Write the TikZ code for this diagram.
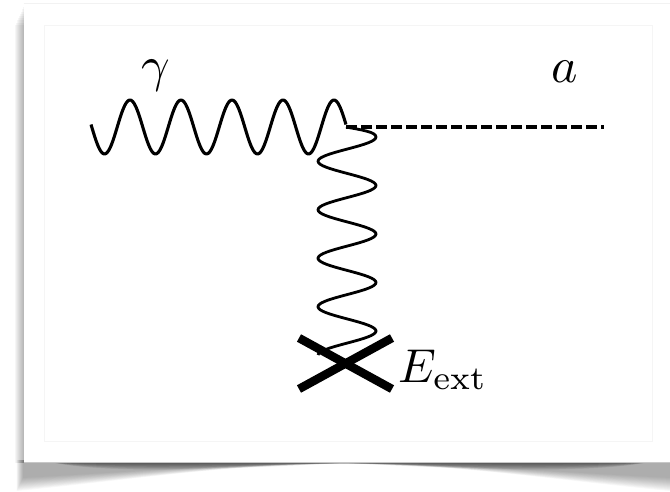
\documentclass[tikz,border=0pt]{standalone}
\begin{document}
\begin{tikzpicture}[x=1pt,y=-1pt,
  wave/.style={line width=3.1pt,black,line join=round},
  dashline/.style={line width=4pt,black,dash pattern=on 10.5pt off 4.5pt},
  crossbar/.style={line width=8.5pt,black},
  lbl/.style={inner sep=0pt},
  faint/.style={line width=.5pt,black!4}]
\useasboundingbox (0,0) rectangle (670,492);
% bottom shadow, built from nested lens-shaped layers
\foreach \k in {1,...,14}{
  \pgfmathsetmacro{\e}{15+\k}
  \pgfmathsetmacro{\xl}{23.5-\k/2}
  \fill[black,opacity=.028] (\xl,460) -- (\xl,462+\e) .. controls (130,462+.62*\e) and (235,463.5) .. (344,463.5) .. controls (450,463.5) and (555,462+.62*\e) .. (670,462+\e) -- (670,460) -- cycle;
}
\foreach \k in {1,...,12}{
  \pgfmathsetmacro{\d}{1.1*\k}
  \fill[black,opacity=.06] (50,460) -- (50,462) .. controls (110,462+\d) and (230,462+.5*\d) .. (344,463) .. controls (460,462+.5*\d) and (580,462+\d) .. (650,462) -- (650,460) -- cycle;
}
% left shadow
\foreach \k in {1,...,9}{
  \fill[black,opacity=.035] (23.5-\k,5+2.2*\k) rectangle (23.5,463);
}
% page
\fill[white] (23.5,3) rectangle (670,462);
\draw[black!5,line width=.5pt] (23.5,3) -- (670,3);
\draw[black!22,line width=.6pt] (23.5,462) -- (670,462);
\draw[faint] (44.5,441.5) -- (44.5,25) -- (652,25) -- (652,441.5) -- cycle;
% diagram
\coordinate (start) at (91,126);
\coordinate (v) at (346,127);
\coordinate (aend) at (604,127);
\coordinate (cnw) at (299,338);
\coordinate (cne) at (392,338);
\coordinate (csw) at (299,389);
\coordinate (cse) at (392,389);
\draw[wave] plot[domain=91:346,samples=160,smooth] (\x,{127-27*cos(360/51*(\x-130))});
\draw[wave,line width=2.8pt] (v) .. controls (362,130) and (376,132) .. (376,137)
  -- plot[domain=137:355,samples=160,smooth] ({347+29*cos(360/48.5*(\x-137))},\x);
\draw[dashline] (v) -- (aend);
\draw[crossbar] (cnw) -- (cse);
\draw[crossbar] (csw) -- (cne);
\node[lbl,anchor=base] (g) at (156,82) {\scalebox{5}{$\gamma$}};
\node[lbl,anchor=base] (a) at (564.5,83) {\scalebox{5}{$a$}};
\node[lbl,anchor=base west] (e) at (398,382) {\scalebox{4.75}{$E_{\rm ext}$}};
\end{tikzpicture}
\end{document}
